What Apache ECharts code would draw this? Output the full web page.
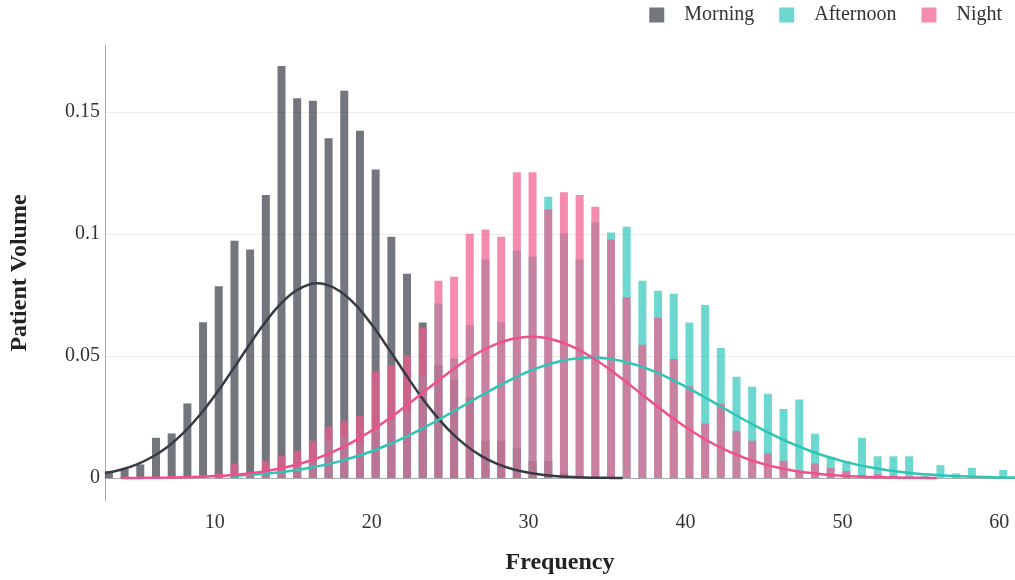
<!DOCTYPE html>
<html>
<head>
<meta charset="utf-8">
<script src="https://cdn.jsdelivr.net/npm/echarts@6/dist/echarts.min.js"></script>
<style>
html,body{margin:0;padding:0;background:#fff;}
#chart{width:1015px;height:580px;}
</style>
</head>
<body>
<div id="chart"></div>
<script>
// Histogram bin centres
var binCenters = [3.25,4.25,5.25,6.25,7.25,8.25,9.25,10.25,11.25,12.25,13.25,14.25,15.25,16.25,17.25,18.25,19.25,20.25,21.25,22.25,23.25,24.25,25.25,26.25,27.25,28.25,29.25,30.25,31.25,32.25,33.25,34.25,35.25,36.25,37.25,38.25,39.25,40.25,41.25,42.25,43.25,44.25,45.25,46.25,47.25,48.25,49.25,50.25,51.25,52.25,53.25,54.25,55.25,56.25,57.25,58.25,59.25,60.25];
var morningBars = [0.0029,0.0037,0.0056,0.0165,0.0183,0.0306,0.0639,0.0786,0.0973,0.0937,0.116,0.1689,0.1557,0.1546,0.1393,0.1587,0.1424,0.1265,0.0989,0.0837,0.0638,0.0463,0.0404,0.0333,0.0153,0.0153,0.0124,0.007,0.007,0.002,0.001,0,0.001,0,0,0,0,0,0,0,0,0,0,0,0,0,0,0,0,0,0,0,0,0,0,0,0,0];
var afternoonBars = [0,0,0,0,0,0,0,0,0.001,0.001,0.002,0.003,0.005,0.008,0.015,0.017,0.014,0.02,0.024,0.027,0.0421,0.0716,0.049,0.0627,0.0896,0.0639,0.0932,0.0907,0.1153,0.1003,0.0896,0.1049,0.1007,0.103,0.0809,0.0768,0.0755,0.0638,0.0709,0.0533,0.0415,0.0374,0.0346,0.0283,0.0322,0.0182,0.0087,0.007,0.0165,0.0089,0.0089,0.0089,0.001,0.0053,0.0019,0.0042,0.001,0.0033];
var nightBars = [0,0.0005,0.0005,0.0005,0.001,0.001,0.001,0.002,0.006,0.002,0.0071,0.009,0.0112,0.0153,0.021,0.0235,0.0254,0.0436,0.0463,0.0504,0.0616,0.0809,0.0825,0.1001,0.1019,0.0989,0.1253,0.1253,0.1101,0.1171,0.116,0.1112,0.0978,0.0741,0.0546,0.0657,0.0488,0.0376,0.0224,0.0305,0.0194,0.0153,0.0101,0.0071,0.003,0.006,0.0042,0.0029,0.0012,0.0016,0.001,0.0005,0.0005,0,0,0,0,0];

// Density curves
var morningCurveX = [3,4,5,6,7,8,9,10,11,12,13,14,15,16,16.5,17,18,19,20,21,22,23,24,25,26,27,28,29,30,31,32,33,34,35,36];
var morningCurveY = [0.00203,0.00342,0.00554,0.00862,0.01288,0.0185,0.02552,0.03384,0.0431,0.0527,0.062,0.0701,0.0761,0.0793,0.0798,0.0795,0.0765,0.0708,0.0629,0.0537,0.0441,0.0347,0.0263,0.0191,0.0134,0.00899,0.0058,0.0036,0.00214,0.00123,0.00067,0.00036,0.00018,0.00009,0.00004];
var afternoonCurveX = [11,12,13,14,15,16,17,18,19,20,21,22,23,24,25,26,27,28,29,30,31,32,33,34,35,36,37,38,39,40,41,42,43,44,45,46,47,48,49,50,51,52,53,54,55,56,57,58,59,60,61];
var afternoonCurveY = [0.00086,0.00121,0.00169,0.00231,0.00311,0.00413,0.0054,0.00696,0.00882,0.01101,0.01355,0.0164,0.01956,0.02297,0.02657,0.03026,0.03395,0.0375,0.0408,0.0437,0.04611,0.04791,0.04902,0.0494,0.04902,0.04791,0.04611,0.0437,0.0408,0.0375,0.03395,0.03026,0.02657,0.02297,0.01956,0.0164,0.01355,0.01101,0.00882,0.00696,0.0054,0.00413,0.00311,0.00231,0.00169,0.00121,0.00086,0.0006,0.00041,0.00028,0.00019];
var nightCurveX = [4,5,6,7,8,9,10,11,12,13,14,15,16,17,18,19,20,21,22,23,24,25,26,27,28,29,30,30.2,31,32,33,34,35,36,37,38,39,40,41,42,43,44,45,46,47,48,49,50,51,52,53,54,55,56];
var nightCurveY = [0.00004,0.00007,0.00012,0.0002,0.00033,0.00051,0.0008,0.0012,0.00178,0.00259,0.00368,0.00512,0.00698,0.00931,0.01216,0.01555,0.01947,0.02387,0.02867,0.03368,0.03876,0.04369,0.04821,0.05208,0.0551,0.05707,0.05788,0.0579,0.05748,0.05589,0.05322,0.04961,0.04528,0.04047,0.03542,0.03035,0.02546,0.02092,0.01682,0.01325,0.01021,0.00772,0.0057,0.00413,0.00293,0.00203,0.00138,0.00092,0.0006,0.00038,0.00024,0.00015,0.00009,0.00005];

var seriesNames = ['Morning','Afternoon','Night'];
var xTicks = [10,20,30,40,50,60];
var yTicks = [0,0.05,0.1,0.15];

function pairs(xs, ys){ var out=[]; for(var i=0;i<xs.length;i++){ out.push([xs[i], ys[i]]); } return out; }

var barColors = ['rgba(55,61,70,0.7)','rgba(46,200,188,0.7)','rgba(241,91,141,0.7)'];
var lineColors = ['#363b45','#2ec4b6','#f0508a'];
var fontFam = '"Liberation Serif", "Times New Roman", serif';

var chart = echarts.init(document.getElementById('chart'), null, {renderer:'canvas'});
function barSeries(name, vals, idx){
  return {
    name: name, type: 'bar', data: pairs(binCenters, vals),
    barWidth: 8, barGap: '-100%',
    itemStyle: {color: barColors[idx]},
    emphasis: {disabled: true}, z: 2
  };
}
function lineSeries(name, xs, ys, idx){
  return {
    name: name + ' density', type: 'line', data: pairs(xs, ys),
    smooth: 0.4, showSymbol: false, symbol: 'none',
    lineStyle: {color: lineColors[idx], width: 2.5},
    itemStyle: {color: lineColors[idx]},
    emphasis: {disabled: true}, z: 5
  };
}
chart.setOption({
  animation: false,
  backgroundColor: '#fff',
  legend: {
    data: seriesNames.map(function(n,i){ return {name:n, itemStyle:{color:barColors[i]}}; }),
    right: 8, top: 0,
    icon: 'rect', itemWidth: 15, itemHeight: 15, itemGap: 25,
    textStyle: {fontFamily: fontFam, fontSize: 20, color: '#333', padding: [0,0,0,15]}
  },
  grid: {left: 103, right: 0, top: 45, bottom: 79, containLabel: false},
  xAxis: {
    type: 'value', min: 3, max: 61,
    name: 'Frequency', nameLocation: 'middle', nameGap: 50,
    nameTextStyle: {fontFamily: fontFam, fontSize: 24, fontWeight: 'bold', color: '#222'},
    axisLine: {show: true, lineStyle: {color: '#aaa', width: 1}},
    axisTick: {show: false, customValues: xTicks},
    axisLabel: {customValues: xTicks, fontFamily: fontFam, fontSize: 20, color: '#333', margin: 12},
    splitLine: {show: false}
  },
  yAxis: {
    type: 'value', min: -0.0094, max: 0.1775,
    name: 'Patient Volume', nameLocation: 'middle', nameGap: 73, nameRotate: 90,
    nameTextStyle: {fontFamily: fontFam, fontSize: 24, fontWeight: 'bold', color: '#222'},
    axisLine: {show: true, lineStyle: {color: '#aaa', width: 1}},
    axisTick: {show: false, customValues: yTicks},
    axisLabel: {customValues: yTicks, fontFamily: fontFam, fontSize: 20, color: '#333', margin: 5},
    splitLine: {show: true, lineStyle: {color: '#ececec', width: 1}}
  },
  series: [
    barSeries('Morning', morningBars, 0),
    barSeries('Afternoon', afternoonBars, 1),
    barSeries('Night', nightBars, 2),
    lineSeries('Morning', morningCurveX, morningCurveY, 0),
    lineSeries('Afternoon', afternoonCurveX, afternoonCurveY, 1),
    lineSeries('Night', nightCurveX, nightCurveY, 2)
  ]
});
</script>
</body>
</html>
